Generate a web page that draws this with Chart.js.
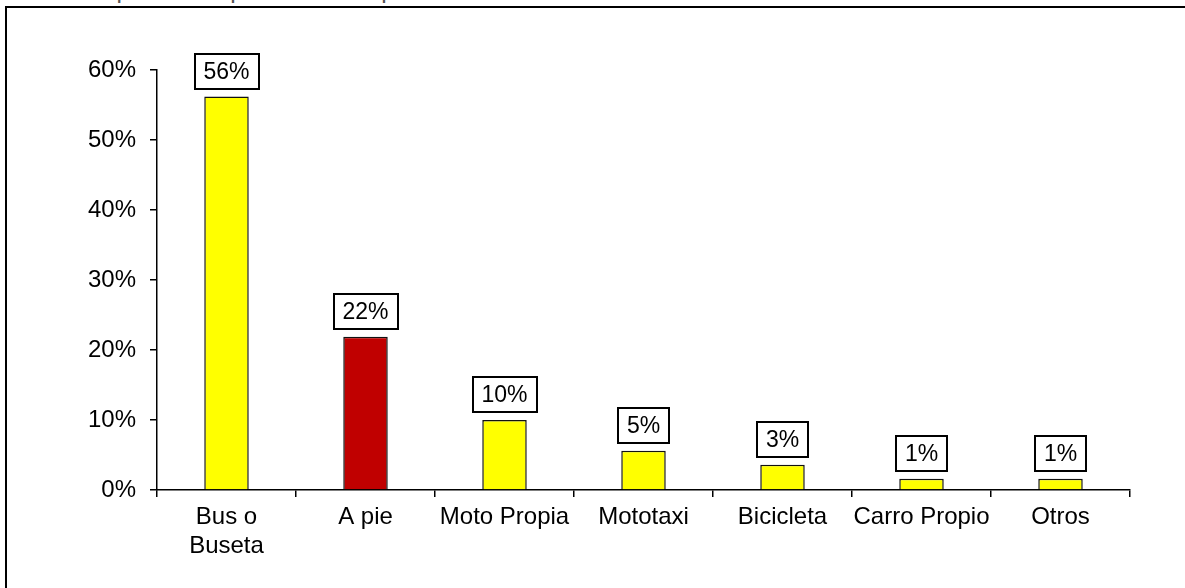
<!DOCTYPE html>
<html>
<head>
<meta charset="utf-8">
<script src="https://cdn.jsdelivr.net/npm/chart.js@4.4.1/dist/chart.umd.min.js"></script>
<style>
  html, body { margin: 0; padding: 0; background: #fff; }
  body { width: 1185px; height: 588px; position: relative; overflow: hidden; font-family: 'Liberation Sans', Arial, sans-serif; }
  #frame { position: absolute; left: 5px; top: 6px; width: 1200px; height: 600px; border-left: 2px solid #000; border-top: 2px solid #000; }
  #title { position: absolute; left: 4px; top: -13px; font-weight: bold; font-size: 16px; line-height: 16px; white-space: nowrap; color: #555; }
  #wrap { position: absolute; left: 0; top: 0; width: 1185px; height: 588px; }
</style>
</head>
<body>
<div id="title">Medio de transporte utilizado por los estudiantes para movilizarse al CENTRO</div>
<div id="frame"></div>
<div id="wrap"><canvas id="c-modos" width="1185" height="588"></canvas></div>
<script>
// categories and values
const categorias = [['Bus o', 'Buseta'], 'A pie', 'Moto Propia', 'Mototaxi', 'Bicicleta', 'Carro Propio', 'Otros'];
const porcentajes = [56.2, 21.9, 10.0, 5.6, 3.6, 1.6, 1.6];
const etiquetas = ['56%', '22%', '10%', '5%', '3%', '1%', '1%'];
const colores = ['#FFFF00', '#C00000', '#FFFF00', '#FFFF00', '#FFFF00', '#FFFF00', '#FFFF00'];
const ticksY = [0, 10, 20, 30, 40, 50, 60];

const FONT = "'Liberation Sans', Arial, sans-serif";

// white boxed value labels above each bar
const boxLabels = {
    id: 'boxLabels',
    afterDatasetsDraw(chart) {
        const ctx = chart.ctx;
        const meta = chart.getDatasetMeta(0);
        ctx.save();
        ctx.font = '23px ' + FONT;
        ctx.textAlign = 'center';
        ctx.textBaseline = 'middle';
        meta.data.forEach((bar, i) => {
            const txt = etiquetas[i];
            const w = Math.round(ctx.measureText(txt).width + 18);
            const h = 35;
            const x = Math.round(bar.x - w / 2);
            const y = Math.round(bar.y - 8 - h);
            ctx.fillStyle = '#fff';
            ctx.fillRect(x, y, w, h);
            ctx.strokeStyle = '#000';
            ctx.lineWidth = 2;
            ctx.strokeRect(x, y, w, h);
            ctx.fillStyle = '#000';
            ctx.fillText(txt, bar.x, y + h / 2 + 1);
        });
        ctx.restore();
    }
};

new Chart(document.getElementById('c-modos'), {
    type: 'bar',
    data: {
        labels: categorias,
        datasets: [{
            data: porcentajes,
            backgroundColor: colores,
            borderColor: '#111',
            borderWidth: 1.5,
            categoryPercentage: 1,
            barPercentage: 0.32
        }]
    },
    options: {
        responsive: false, animation: false,
        layout: { padding: { left: 0, top: 70, right: 55, bottom: 0 } },
        scales: {
            x: {
                offset: true,
                grid: { offset: true, drawOnChartArea: false, drawTicks: true, tickLength: 7, color: '#000', lineWidth: 1.5 },
                border: { color: '#000', width: 1.5 },
                ticks: { color: '#000', font: { family: FONT, size: 24, lineHeight: 1.2 }, padding: 6, maxRotation: 0, autoSkip: false },
                afterFit: (s) => { s.height = 98; }
            },
            y: {
                min: 0, max: 60,
                afterBuildTicks: (s) => { s.ticks = ticksY.map(v => ({ value: v })); },
                grid: { drawOnChartArea: false, drawTicks: true, tickLength: 7, color: '#000', lineWidth: 1.5 },
                border: { color: '#000', width: 1.5 },
                ticks: { color: '#000', font: { family: FONT, size: 24 }, padding: 14, callback: v => v + '%' },
                afterFit: (s) => { s.width = 157; }
            }
        },
        plugins: { legend: { display: false }, tooltip: { enabled: false } }
    },
    plugins: [boxLabels]
});
</script>
</body>
</html>
